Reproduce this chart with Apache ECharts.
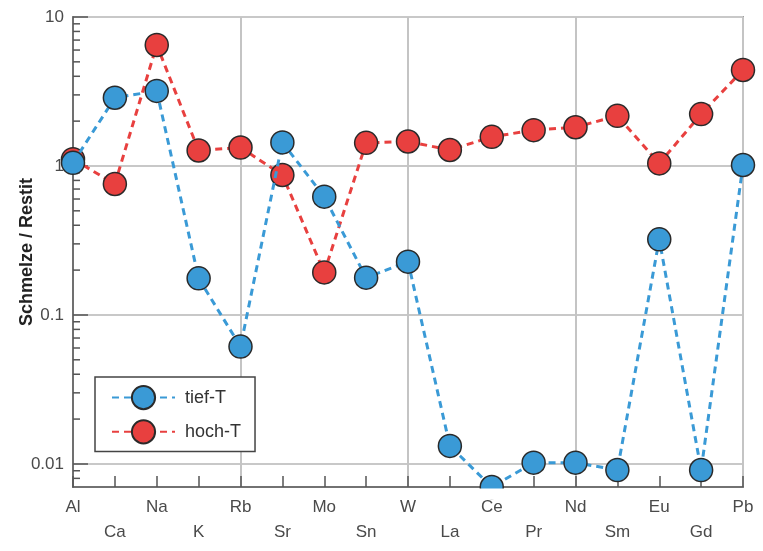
<!DOCTYPE html>
<html>
<head>
<meta charset="utf-8">
<script src="https://cdn.jsdelivr.net/npm/echarts@6/dist/echarts.min.js"></script>
<style>
html,body{margin:0;padding:0;background:#fff;}
#chart{width:763px;height:551px;}
</style>
</head>
<body>
<div id="chart"></div>
<script>
const categories = ['Al','Ca','Na','K','Rb','Sr','Mo','Sn','W','La','Ce','Pr','Nd','Sm','Eu','Gd','Pb'];
const tiefT = [1.05, 2.87, 3.19, 0.176, 0.0613, 1.44, 0.622, 0.178, 0.228, 0.0132, 0.007, 0.0102, 0.0102, 0.0091, 0.322, 0.0091, 1.015];
const hochT = [1.11, 0.757, 6.49, 1.27, 1.33, 0.87, 0.193, 1.43, 1.46, 1.28, 1.57, 1.74, 1.82, 2.17, 1.04, 2.23, 4.41];
const yTickLabels = ['0.01', '0.1', '1', '10'];
const minorTickValues = [0.008, 0.009,
  0.02, 0.03, 0.04, 0.05, 0.06, 0.07, 0.08, 0.09,
  0.2, 0.3, 0.4, 0.5, 0.6, 0.7, 0.8, 0.9,
  2, 3, 4, 5, 6, 7, 8, 9];

const FONT = '"Liberation Sans", Arial, Helvetica, sans-serif';
const BLUE = '#3a9ad6';
const RED = '#e8403f';
const chart = echarts.init(document.getElementById('chart'));

const gridBottom = 64;
const chartH = 551;

chart.setOption({
  backgroundColor: '#fff',
  animation: false,
  textStyle: { fontFamily: FONT },
  grid: {
    left: 73, right: 20, top: 17, bottom: gridBottom,
    show: true, borderColor: '#555', borderWidth: 1.5, backgroundColor: 'transparent'
  },
  legend: {
    data: ['tief-T', 'hoch-T'],
    orient: 'vertical',
    left: 95, top: 377,
    itemWidth: 63, itemHeight: 29, itemGap: 9,
    padding: [8, 14, 7, 16],
    backgroundColor: '#fff',
    borderColor: '#444', borderWidth: 1.5, borderRadius: 0,
    textStyle: { fontSize: 18, color: '#333', fontFamily: FONT, padding: [0, 0, 0, 5] }
  },
  xAxis: {
    type: 'category',
    data: categories,
    boundaryGap: false,
    axisLine: { show: true, lineStyle: { color: '#555', width: 1.5 } },
    axisTick: { show: true, inside: true, length: 11, interval: 0, lineStyle: { color: '#555', width: 1.5 } },
    axisLabel: {
      interval: 0, fontSize: 17, color: '#4a4a4a', lineHeight: 25, margin: 8, fontFamily: FONT,
      formatter: (v, i) => (i % 2 === 1 ? '\n' + v : v)
    },
    splitLine: { show: true, interval: (i) => i % 4 === 0, lineStyle: { color: '#c4c4c4', width: 2 } }
  },
  yAxis: {
    type: 'log',
    logBase: 10,
    min: 0.007,
    max: 10,
    name: 'Schmelze / Restit',
    nameLocation: 'middle',
    nameGap: 37,
    nameMoveOverlap: false,
    nameTextStyle: { fontSize: 18, fontWeight: 'bold', color: '#222', fontFamily: FONT },
    axisLine: { show: true, lineStyle: { color: '#555', width: 1.5 } },
    axisTick: { show: true, inside: true, length: 15, lineStyle: { color: '#555', width: 1.5 } },
    axisLabel: {
      fontSize: 17, color: '#4a4a4a', margin: 9, fontFamily: FONT, showMinLabel: false,
      formatter: (v) => {
        const s = yTickLabels.find(t => Math.abs(parseFloat(t) - v) / v < 1e-6);
        return s || '';
      }
    },
    splitLine: { show: true, lineStyle: { color: '#c8c8c8', width: 2 } }
  },
  graphic: [{
    type: 'rect', z: 100, silent: true,
    shape: { x: 60, y: chartH - gridBottom + 1.5, width: 700, height: 11 },
    style: { fill: '#fff' }
  }],
  series: [
    {
      name: 'minor', type: 'custom', silent: true, z: 3,
      data: minorTickValues.map(v => [0, v]),
      renderItem: (params, api) => {
        const p = api.coord([0, api.value(1)]);
        return {
          type: 'line',
          shape: { x1: p[0], y1: p[1], x2: p[0] + 7, y2: p[1] },
          style: { stroke: '#555', lineWidth: 1.5 }
        };
      }
    },
    {
      name: 'hoch-T', type: 'line', data: hochT, z: 4,
      symbol: 'circle', symbolSize: 23,
      itemStyle: { color: RED, borderColor: '#2a2a2a', borderWidth: 1.5 },
      lineStyle: { color: RED, width: 3, type: [7, 5] }
    },
    {
      name: 'tief-T', type: 'line', data: tiefT, z: 5,
      symbol: 'circle', symbolSize: 23,
      itemStyle: { color: BLUE, borderColor: '#2a2a2a', borderWidth: 1.5 },
      lineStyle: { color: BLUE, width: 3, type: [7, 5] }
    }
  ]
});
</script>
</body>
</html>
